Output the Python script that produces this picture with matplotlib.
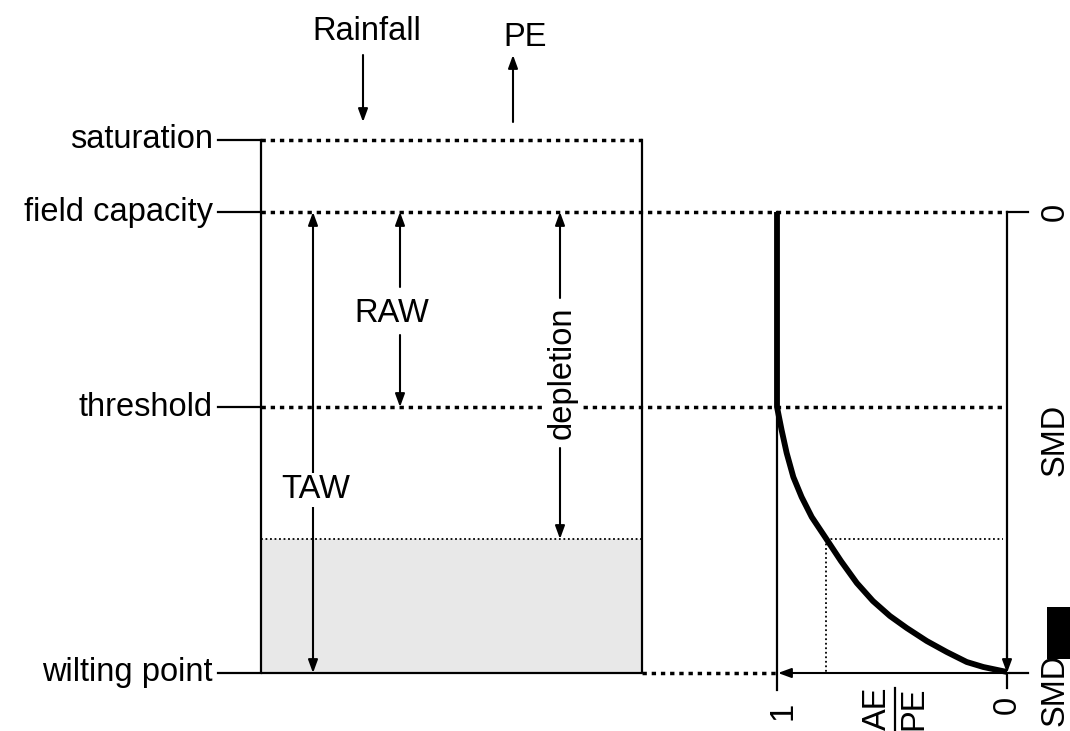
import numpy as np
import matplotlib
matplotlib.use("Agg")
import matplotlib.pyplot as plt
from matplotlib.patches import Rectangle

plt.rcParams['font.family'] = ['Liberation Sans', 'DejaVu Sans']

# store levels (diagram units, downwards)
levels = ['saturation', 'field capacity', 'threshold', 'wilting point']
level_y = [140, 212, 407, 673]
depletion_y = 539

# AE/PE against depth of the store
ratio = [1.0, 1.0, 0.98, 0.958, 0.929, 0.893, 0.849, 0.791, 0.722, 0.653, 0.583,
         0.509, 0.436, 0.349, 0.262, 0.175, 0.103, 0.0]
curve_y = [212, 407, 430, 453, 477, 497, 517, 537, 561, 583, 601,
           616, 628, 641, 652, 662, 667, 672]
ratio_mark = 0.788

# layout (pixels)
box_l, box_r = 261, 642
ax_l, ax_r = 777, 1007
def rx(r):
    return ax_r - (ax_r - ax_l) * np.asarray(r)

fig = plt.figure(figsize=(10.7, 7.31), dpi=100)
ax = fig.add_axes([0, 0, 1, 1])
ax.set_xlim(0, 1070)
ax.set_ylim(731, 0)
ax.axis('off')

fs = 23.5
thick_dot = dict(color='k', lw=2.5, linestyle=(0, (1.25, 1.4)))
thin_dot = dict(color='k', lw=1.3, linestyle=(0, (1, 1.5)))
arrow = dict(arrowstyle='-|>,head_length=0.6,head_width=0.22', color='k', lw=1.5,
             shrinkA=0, shrinkB=0, mutation_scale=13)

y_sat, y_fc, y_thr, y_wp = level_y

# grey depleted part
ax.add_patch(Rectangle((box_l, depletion_y), box_r - box_l, y_wp - depletion_y,
                       facecolor='#e8e8e8', edgecolor='none', zorder=0))
ax.plot([box_l, box_r], [depletion_y, depletion_y], **thin_dot)

# box
ax.plot([box_l, box_l, box_r, box_r], [y_sat, y_wp, y_wp, y_sat], color='k', lw=1.6)
for name, y in zip(levels, level_y):
    ax.plot([218, box_l], [y, y], color='k', lw=1.6)
    ax.text(213, y, name, ha='right', va='center', fontsize=fs)

ax.plot([box_l, box_r], [y_sat, y_sat], **thick_dot)
ax.plot([box_l, ax_r], [y_fc, y_fc], **thick_dot)
ax.plot([box_l, ax_r], [y_thr, y_thr], **thick_dot)
ax.plot([box_r, ax_l], [y_wp, y_wp], **thick_dot)

# rainfall / PE
ax.annotate('', xy=(363, 122), xytext=(363, 55), arrowprops=arrow)
ax.annotate('', xy=(513, 55), xytext=(513, 122), arrowprops=arrow)
ax.text(367, 32, 'Rainfall', ha='center', va='center', fontsize=fs)
ax.text(525, 37, 'PE', ha='center', va='center', fontsize=fs)

# TAW
ax.annotate('', xy=(313, y_fc), xytext=(313, y_wp),
            arrowprops=dict(arrow, arrowstyle='<|-|>,head_length=0.6,head_width=0.22'))
ax.text(316, 490, 'TAW', ha='center', va='center', fontsize=fs, zorder=5,
        bbox=dict(facecolor='white', edgecolor='none', pad=1))

# RAW
ax.annotate('', xy=(400, y_fc), xytext=(400, 287), arrowprops=arrow)
ax.annotate('', xy=(400, y_thr), xytext=(400, 335), arrowprops=arrow)
ax.text(392, 313, 'RAW', ha='center', va='center', fontsize=fs)

# depletion
ax.annotate('', xy=(560, y_fc), xytext=(560, 298), arrowprops=arrow)
ax.annotate('', xy=(560, depletion_y), xytext=(560, 448), arrowprops=arrow)
ax.text(562, 373, 'depletion', ha='center', va='center', fontsize=fs, rotation=90,
        zorder=5, bbox=dict(facecolor='white', edgecolor='none', pad=2))

# right panel axes
ax.plot([ax_l, ax_l], [y_fc, 690], color='k', lw=1.6)
ax.plot([ax_r, ax_r], [y_fc, 660], color='k', lw=1.6)
ax.annotate('', xy=(ax_r, y_wp), xytext=(ax_r, 650), arrowprops=arrow)
ax.plot([ax_r, 1028], [y_fc, y_fc], color='k', lw=1.6)
ax.plot([ax_r + 3, 1028], [y_wp, y_wp], color='k', lw=1.6)
ax.annotate('', xy=(ax_l + 1, y_wp), xytext=(ax_r + 3, y_wp), arrowprops=arrow)
ax.plot([ax_r, ax_r], [y_wp, 688], color='k', lw=1.6)

# AE/PE curve
ax.plot(rx(ratio), curve_y, color='k', lw=4.2, solid_capstyle='butt',
        solid_joinstyle='round', zorder=4)
mx = rx(ratio_mark)
ax.plot([mx, ax_r - 4], [depletion_y, depletion_y], **thin_dot)
ax.plot([mx, mx], [depletion_y, y_wp], **thin_dot)

# right labels
ax.text(1055, y_fc, '0', ha='center', va='center', fontsize=fs, rotation=90)
ax.text(1055, 440, 'SMD', ha='center', va='center', fontsize=fs, rotation=90)
ax.text(1055, 690, 'SMD', ha='center', va='center', fontsize=fs, rotation=90)
ax.add_patch(Rectangle((1047, 607), 23, 52, facecolor='k', edgecolor='none', zorder=6))
ax.text(ax_l + 6, 711, '1', ha='center', va='center', fontsize=fs, rotation=90)
ax.text(ax_r, 705, '0', ha='center', va='center', fontsize=fs, rotation=90)
ax.text(877, 708, 'AE', ha='center', va='center', fontsize=fs, rotation=90)
ax.text(914, 708, 'PE', ha='center', va='center', fontsize=fs, rotation=90)
ax.plot([895, 895], [688, 731], color='k', lw=1.6)

fig.savefig('out.png', dpi=100)
